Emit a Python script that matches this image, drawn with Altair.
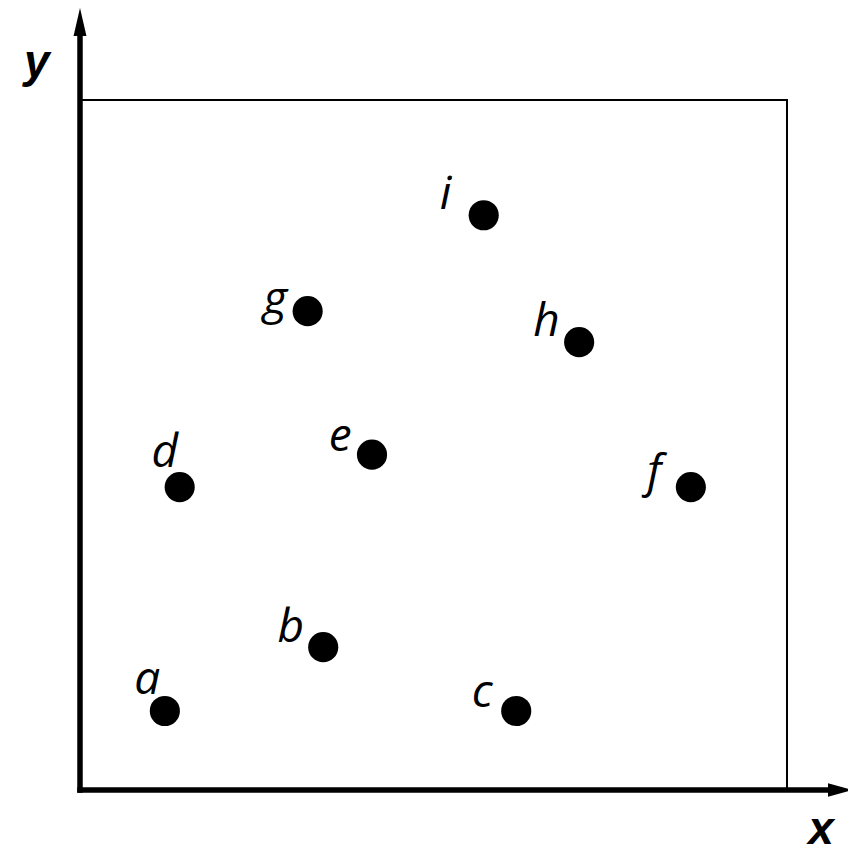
import altair as alt
import pandas as pd

# point data (data units, frame spans 0..10 on both axes)
names = ["a", "b", "c", "d", "e", "f", "g", "h", "i"]
px = [1.20, 3.44, 6.17, 1.41, 4.13, 8.64, 3.22, 7.06, 5.71]
py = [1.145, 2.07, 1.145, 4.39, 4.86, 4.39, 6.94, 6.49, 8.33]
# label anchor positions (data units)
lx = [0.95, 2.98, 5.69, 1.20, 3.68, 8.12, 2.76, 6.60, 5.17]
ly = [1.59, 2.35, 1.41, 4.88, 5.12, 4.59, 7.10, 6.78, 8.62]

# axis arrows (data units)
x_axis_end = 10.64
x_arrow_at = 10.75
y_axis_end = 10.93
y_arrow_at = 11.13
x_title = ["x"]
x_title_pos = [10.48, -0.78]
y_title = ["y"]
y_title_pos = [-0.61, 10.33]

pts = pd.DataFrame({"name": names, "x": px, "y": py, "lx": lx, "ly": ly})

xs = alt.Scale(domain=[0, 10], nice=False, zero=False)
ys = alt.Scale(domain=[0, 10], nice=False, zero=False)

points = alt.Chart(pts).mark_circle(size=908, color="black", opacity=1).encode(
    x=alt.X("x:Q", scale=xs, axis=None),
    y=alt.Y("y:Q", scale=ys, axis=None),
)

labels = alt.Chart(pts).mark_text(
    font="Open Sans", fontStyle="italic", fontSize=46, color="black",
    align="center", baseline="middle",
).encode(
    x=alt.X("lx:Q", scale=xs, axis=None),
    y=alt.Y("ly:Q", scale=ys, axis=None),
    text="name:N",
)

xaxis_df = pd.DataFrame({"x": [0.0], "x2": [x_axis_end], "y": [0.0]})
xaxis = alt.Chart(xaxis_df).mark_rule(color="black", strokeWidth=5.5, strokeCap="square").encode(
    x=alt.X("x:Q", scale=xs, axis=None), x2="x2:Q",
    y=alt.Y("y:Q", scale=ys, axis=None),
)

yaxis_df = pd.DataFrame({"x": [0.0], "y": [0.0], "y2": [y_axis_end]})
yaxis = alt.Chart(yaxis_df).mark_rule(color="black", strokeWidth=5.5, strokeCap="square").encode(
    x=alt.X("x:Q", scale=xs, axis=None),
    y=alt.Y("y:Q", scale=ys, axis=None), y2="y2:Q",
)

xhead = alt.Chart(pd.DataFrame({"x": [x_arrow_at], "y": [0.0]})).mark_point(
    shape="M-1,-0.56 L1,0 L-1,0.56 Z", size=576, filled=True, color="black", opacity=1, strokeWidth=0,
).encode(x=alt.X("x:Q", scale=xs, axis=None), y=alt.Y("y:Q", scale=ys, axis=None))

yhead = alt.Chart(pd.DataFrame({"x": [0.0], "y": [y_arrow_at]})).mark_point(
    shape="M-0.46,1 L0,-1 L0.46,1 Z", size=784, filled=True, color="black", opacity=1, strokeWidth=0,
).encode(x=alt.X("x:Q", scale=xs, axis=None), y=alt.Y("y:Q", scale=ys, axis=None))

titles_df = pd.DataFrame({
    "t": x_title + y_title,
    "x": [x_title_pos[0], y_title_pos[0]],
    "y": [x_title_pos[1], y_title_pos[1]],
})
titles = alt.Chart(titles_df).mark_text(
    font="Liberation Sans", fontStyle="italic", fontWeight="bold", fontSize=46,
    color="black", align="center", baseline="alphabetic",
).encode(
    x=alt.X("x:Q", scale=xs, axis=None),
    y=alt.Y("y:Q", scale=ys, axis=None),
    text="t:N",
)

chart = alt.layer(points, labels, xaxis, yaxis, xhead, yhead, titles).properties(
    width=707, height=690,
    autosize=alt.AutoSizeParams(type="none"),
    padding={"left": 72, "top": 92, "right": 61, "bottom": 65},
).configure(background="white").configure_view(stroke="black", strokeWidth=2)

chart.save("out.html", embed_options={"renderer": "svg", "actions": False})
